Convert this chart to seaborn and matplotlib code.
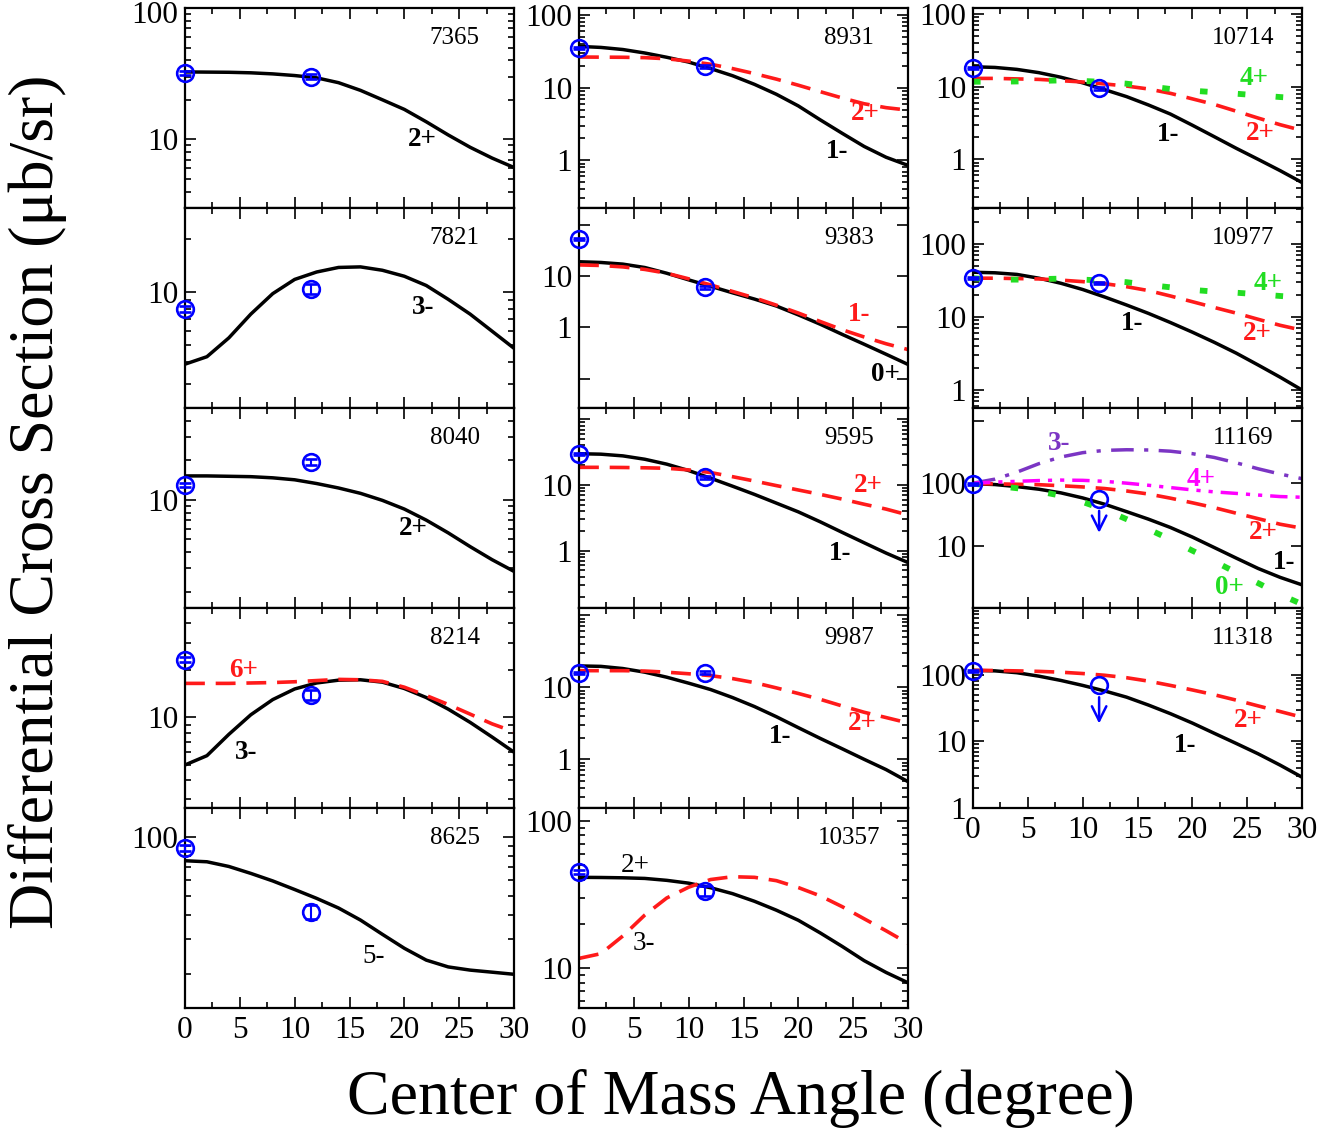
import matplotlib
matplotlib.use("Agg")
import matplotlib.pyplot as plt
import matplotlib.transforms as mtransforms
from matplotlib.ticker import MultipleLocator, LogLocator, NullFormatter
import numpy as np
import pandas as pd
import seaborn as sns

# ---------------------------------------------------------------- data
# centre-of-mass angles (deg) at which the DWBA curves are tabulated
theta = list(range(0, 31, 2))
# angles of the measured points
theta_exp = [0.0, 11.5]

# 7365 keV
cs7365_2p = [32.6, 32.5, 32.4, 32.1, 31.5, 30.6, 29.4, 27.0, 23.6, 20.0, 16.9, 13.6, 10.8, 8.7, 7.2, 6.1]
exp7365 = [32.0, 30.0]
err7365 = [1.0, 1.2]

# 7821 keV
cs7821_3m = [3.9, 4.3, 5.5, 7.5, 9.8, 11.8, 13.0, 13.8, 13.9, 13.3, 12.3, 10.9, 9.1, 7.5, 6.0, 4.8]
exp7821 = [8.0, 10.45]
err7821 = [0.3, 0.7]

# 8040 keV
cs8040_2p = [15.2, 15.2, 15.1, 15.0, 14.7, 14.2, 13.3, 12.3, 11.2, 9.9, 8.5, 7.0, 5.6, 4.4, 3.5, 2.85]
exp8040 = [13.0, 19.3]
err8040 = [0.5, 1.0]

# 8214 keV
cs8214_3m = [4.97, 5.7, 7.8, 10.4, 13.0, 15.2, 16.6, 17.3, 17.4, 16.8, 15.3, 13.4, 11.3, 9.3, 7.5, 6.0]
cs8214_6p = [16.5, 16.5, 16.5, 16.6, 16.7, 16.9, 17.2, 17.5, 17.4, 17.0, 15.6, 13.8, 12.1, 10.5, 9.1, 8.1]
exp8214 = [23.4, 14.0]
err8214 = [0.8, 1.0]

# 8625 keV
cs8625_5m = [75.4, 74.5, 70.5, 65.0, 59.5, 53.8, 48.5, 43.3, 37.6, 31.8, 27.0, 23.5, 21.7, 20.9, 20.4, 19.9]
exp8625 = [87.3, 41.4]
err8625 = [3.0, 3.5]

# 8931 keV
cs8931_1m = [37.0, 35.8, 33.5, 30.0, 26.2, 22.5, 18.3, 14.6, 11.1, 8.1, 5.6, 3.6, 2.35, 1.55, 1.1, 0.85]
cs8931_2p = [26.4, 26.3, 26.2, 25.9, 25.0, 23.2, 21.0, 18.3, 15.6, 13.1, 10.8, 8.8, 7.2, 6.0, 5.3, 4.9]
exp8931 = [35.2, 19.7]
err8931 = [1.0, 1.0]

# 9383 keV
cs9383_0p = [18.9, 18.3, 17.0, 14.6, 11.3, 8.4, 6.3, 4.7, 3.55, 2.6, 1.75, 1.15, 0.73, 0.47, 0.3, 0.19]
cs9383_1m = [16.4, 16.0, 15.0, 13.4, 11.3, 8.8, 6.7, 5.0, 3.75, 2.7, 1.9, 1.3, 0.9, 0.65, 0.48, 0.37]
exp9383 = [51.6, 6.0]
err9383 = [2.0, 0.3]

# 9595 keV
cs9595_1m = [30.0, 29.5, 27.8, 24.7, 20.8, 16.6, 12.7, 9.6, 7.2, 5.3, 3.9, 2.75, 1.9, 1.32, 0.92, 0.66]
cs9595_2p = [18.6, 18.6, 18.5, 18.3, 18.0, 17.0, 15.5, 13.4, 11.5, 9.8, 8.4, 7.2, 6.1, 5.1, 4.3, 3.5]
exp9595 = [30.0, 13.1]
err9595 = [1.0, 0.6]

# 9987 keV
cs9987_1m = [19.8, 19.5, 18.2, 16.2, 13.8, 11.4, 9.3, 7.2, 5.4, 3.9, 2.75, 1.95, 1.4, 1.0, 0.72, 0.49]
cs9987_2p = [17.0, 17.0, 17.0, 16.8, 16.2, 15.4, 14.5, 13.2, 11.6, 9.8, 8.2, 6.8, 5.5, 4.5, 3.8, 3.2]
exp9987 = [15.9, 15.9]
err9987 = [0.5, 0.7]

# 10357 keV
cs10357_2p = [41.4, 41.3, 41.1, 40.7, 39.5, 37.8, 35.2, 32.1, 28.5, 24.8, 21.2, 17.4, 14.1, 11.3, 9.4, 8.0]
cs10357_3m = [11.7, 12.6, 16.6, 23.0, 30.0, 35.5, 40.0, 41.8, 41.4, 39.3, 35.3, 31.0, 26.2, 21.7, 18.0, 14.8]
exp10357 = [45.1, 33.6]
err10357 = [1.5, 2.5]

# 10714 keV
cs10714_1m = [18.8, 18.4, 17.3, 15.6, 13.5, 11.3, 9.1, 7.3, 5.6, 4.2, 2.95, 2.05, 1.42, 1.0, 0.7, 0.48]
cs10714_2p = [13.0, 13.0, 12.8, 12.6, 12.1, 11.6, 10.9, 10.2, 9.3, 8.1, 6.8, 5.7, 4.6, 3.7, 3.0, 2.5]
cs10714_4p = [11.7, 11.7, 11.8, 12.0, 12.2, 12.0, 11.6, 11.0, 10.1, 9.3, 8.8, 8.4, 8.0, 7.6, 7.2, 6.9]
exp10714 = [18.3, 9.5]
err10714 = [0.6, 0.4]

# 10977 keV
cs10977_1m = [41.0, 40.3, 38.3, 34.0, 29.0, 23.8, 18.8, 14.6, 11.2, 8.4, 6.2, 4.5, 3.2, 2.2, 1.5, 1.0]
cs10977_2p = [34.0, 34.0, 33.6, 33.2, 32.0, 30.5, 28.6, 26.0, 23.0, 19.4, 16.2, 13.5, 11.3, 9.3, 7.7, 6.6]
cs10977_4p = [34.0, 32.5, 32.5, 33.0, 33.5, 32.5, 31.5, 30.0, 27.5, 25.5, 23.5, 22.3, 21.5, 20.5, 19.4, 18.5]
exp10977 = [34.0, 29.2]
err10977 = [1.0, 1.0]

# 11169 keV
cs11169_1m = [98.0, 95.0, 88.0, 80.0, 70.0, 58.0, 46.0, 35.0, 26.5, 19.5, 13.7, 9.3, 6.3, 4.3, 3.1, 2.35]
cs11169_2p = [98.0, 97.5, 96.0, 94.5, 91.0, 87.0, 82.0, 75.0, 67.0, 57.5, 48.5, 40.5, 33.0, 27.0, 22.0, 19.0]
cs11169_0p = [98.0, 91.0, 83.0, 74.0, 63.0, 50.0, 37.5, 26.5, 18.3, 12.5, 8.3, 5.6, 3.7, 2.5, 1.65, 1.15]
cs11169_3m = [100.0, 116.0, 150.0, 205.0, 262.0, 308.0, 335.0, 343.0, 340.0, 325.0, 297.0, 258.0, 212.0, 170.0, 140.0, 118.0]
cs11169_4p = [100.0, 104.0, 107.0, 110.0, 112.0, 111.0, 107.0, 100.0, 92.5, 85.0, 78.0, 72.5, 68.5, 64.5, 61.0, 59.5]
exp11169 = [98.0]
err11169 = [3.0]
ulim11169 = (55.6, 16.0)   # upper limit at 11.5 deg and arrow tip

# 11318 keV
cs11318_1m = [116.0, 114.0, 107.0, 95.0, 82.0, 69.0, 57.0, 46.0, 35.0, 26.0, 18.8, 13.2, 9.3, 6.5, 4.4, 2.9]
cs11318_2p = [116.0, 115.5, 114.0, 112.0, 109.0, 104.0, 98.0, 90.0, 80.0, 69.0, 59.0, 50.0, 41.5, 34.0, 28.0, 23.0]
exp11318 = [115.0]
err11318 = [4.0]
ulim11318 = (69.0, 18.5)

# ---------------------------------------------------------------- styles
STYLES = {
    "solid": dict(color="black", linestyle="-", linewidth=2.5),
    "dash": dict(color="#ff1a1a", linestyle=(0, (5.5, 3.0)), linewidth=2.6),
    "dot": dict(color="#22dd22", linestyle=(0, (1.3, 5.2)), linewidth=4.2),
    "dashdot": dict(color="#7b35c4", linestyle=(0, (6.5, 3.0, 1.2, 3.0)), linewidth=2.5),
    "dashdotdot": dict(color="#ff00ff", linestyle=(0, (5.0, 2.3, 1.2, 2.3, 1.2, 2.3)), linewidth=2.5),
}

# curve entry: (values, spin label, style, label position, weight, label colour or None)
PANELS = [
    dict(energy="7365", cell=(0, 0), ylim=(3, 100), ylabels=[10, 100],
         curves=[(cs7365_2p, "2+", "solid", (21.6, 10.0), "bold", None)],
         exp=(exp7365, err7365)),
    dict(energy="7821", cell=(1, 0), ylim=(2.2, 30), ylabels=[10],
         curves=[(cs7821_3m, "3-", "solid", (21.7, 8.2), "bold", None)],
         exp=(exp7821, err7821)),
    dict(energy="8040", cell=(2, 0), ylim=(1.5, 50), ylabels=[10],
         curves=[(cs8040_2p, "2+", "solid", (20.8, 6.0), "bold", None)],
         exp=(exp8040, err8040)),
    dict(energy="8214", cell=(3, 0), ylim=(2.64, 50), ylabels=[10],
         curves=[(cs8214_3m, "3-", "solid", (5.6, 6.0), "bold", None),
                 (cs8214_6p, "6+", "dash", (5.3, 20.0), "bold", None)],
         exp=(exp8214, err8214)),
    dict(energy="8625", cell=(4, 0), ylim=(13.4, 140), ylabels=[100],
         curves=[(cs8625_5m, "5-", "solid", (17.2, 24.5), "normal", None)],
         exp=(exp8625, err8625)),
    dict(energy="8931", cell=(0, 1), ylim=(0.22, 125), ylabels=[1, 10, 100],
         curves=[(cs8931_1m, "1-", "solid", (23.5, 1.3), "bold", None),
                 (cs8931_2p, "2+", "dash", (26.1, 4.4), "bold", None)],
         exp=(exp8931, err8931)),
    dict(energy="9383", cell=(1, 1), ylim=(0.027, 210), ylabels=[1, 10],
         curves=[(cs9383_0p, "0+", "solid", (27.9, 0.12), "bold", None),
                 (cs9383_1m, "1-", "dash", (25.5, 1.75), "bold", None)],
         exp=(exp9383, err9383)),
    dict(energy="9595", cell=(2, 1), ylim=(0.134, 149), ylabels=[1, 10],
         curves=[(cs9595_1m, "1-", "solid", (23.8, 0.91), "bold", None),
                 (cs9595_2p, "2+", "dash", (26.4, 10.0), "bold", None)],
         exp=(exp9595, err9595)),
    dict(energy="9987", cell=(3, 1), ylim=(0.211, 126), ylabels=[1, 10],
         curves=[(cs9987_1m, "1-", "solid", (18.3, 2.06), "bold", None),
                 (cs9987_2p, "2+", "dash", (25.8, 3.1), "bold", None)],
         exp=(exp9987, err9987)),
    dict(energy="10357", cell=(4, 1), ylim=(5.4, 122), ylabels=[10, 100],
         curves=[(cs10357_2p, "2+", "solid", (5.1, 50.0), "normal", None),
                 (cs10357_3m, "3-", "dash", (5.9, 14.8), "normal", "black")],
         exp=(exp10357, err10357)),
    dict(energy="10714", cell=(0, 2), ylim=(0.214, 121), ylabels=[1, 10, 100],
         curves=[(cs10714_1m, "1-", "solid", (17.8, 2.2), "bold", None),
                 (cs10714_2p, "2+", "dash", (26.2, 2.3), "bold", None),
                 (cs10714_4p, "4+", "dot", (25.6, 13.0), "bold", None)],
         exp=(exp10714, err10714)),
    dict(energy="10977", cell=(1, 2), ylim=(0.567, 311), ylabels=[1, 10, 100],
         curves=[(cs10977_1m, "1-", "solid", (14.5, 8.1), "bold", None),
                 (cs10977_2p, "2+", "dash", (25.9, 6.0), "bold", None),
                 (cs10977_4p, "4+", "dot", (26.9, 29.0), "bold", None)],
         exp=(exp10977, err10977)),
    dict(energy="11169", cell=(2, 2), ylim=(1.0, 1600), ylabels=[10, 100],
         curves=[(cs11169_1m, "1-", "solid", (28.4, 5.3), "bold", None),
                 (cs11169_2p, "2+", "dash", (26.5, 16.0), "bold", None),
                 (cs11169_0p, "0+", "dot", (23.4, 2.1), "bold", None),
                 (cs11169_3m, "3-", "dashdot", (7.9, 434.0), "bold", None),
                 (cs11169_4p, "4+", "dashdotdot", (20.8, 113.0), "bold", None)],
         exp=(exp11169, err11169), ulim=ulim11169),
    dict(energy="11318", cell=(3, 2), ylim=(1.0, 1000), ylabels=[1, 10, 100],
         curves=[(cs11318_1m, "1-", "solid", (19.3, 8.7), "bold", None),
                 (cs11318_2p, "2+", "dash", (25.1, 20.6), "bold", None)],
         exp=(exp11318, err11318), ulim=ulim11318),
]

BOTTOM_CELLS = {(4, 0), (4, 1), (3, 2)}

# ---------------------------------------------------------------- figure
sns.set_theme(style="ticks")
plt.rcParams["font.family"] = ["Liberation Serif", "DejaVu Serif"]
plt.rcParams.update({"text.color": "black", "axes.labelcolor": "black",
                     "xtick.color": "black", "ytick.color": "black"})

W, H = 1340, 1135
fig = plt.figure(figsize=(W / 100, H / 100), dpi=100)
fig.patch.set_facecolor("white")

COL_LEFT = [185, 579, 973]
PANEL_W, PANEL_H, TOP0 = 329, 200, 8
BLUE = "#0000ff"


def fmt_decade(v):
    return f"{v:g}"


for p in PANELS:
    r, c = p["cell"]
    left = COL_LEFT[c] / W
    bottom = 1 - (TOP0 + PANEL_H * (r + 1)) / H
    ax = fig.add_axes([left, bottom, PANEL_W / W, PANEL_H / H])
    ax.set_facecolor("white")
    ax.set_yscale("log")
    ax.set_xlim(0, 30)
    ax.set_ylim(*p["ylim"])

    for vals, lab, sty, pos, weight, lcol in p["curves"]:
        st = STYLES[sty]
        df = pd.DataFrame({"theta": theta, "xs": vals})
        sns.lineplot(data=df, x="theta", y="xs", ax=ax, color=st["color"],
                     linestyle=st["linestyle"], linewidth=st["linewidth"],
                     legend=False, sort=True)
        ax.text(pos[0], pos[1], lab, ha="center", va="center", fontsize=19.5,
                fontweight=weight, color=lcol or st["color"])

    yv, ye = p["exp"]
    xs = theta_exp[:len(yv)]
    eb = ax.errorbar(xs, yv, yerr=ye, fmt="o", ms=12, mfc="none", mec=BLUE,
                     mew=1.9, ecolor=BLUE, elinewidth=1.5, capsize=4,
                     capthick=1.5, zorder=5)
    for art in [eb[0], *eb[1], *eb[2]]:
        art.set_clip_on(False)

    if "ulim" in p:
        val, tip = p["ulim"]
        ax.plot([theta_exp[1]], [val], "o", ms=12, mfc="none", mec=BLUE,
                mew=1.9, zorder=5)
        ax.annotate("", xy=(theta_exp[1], tip), xytext=(theta_exp[1], val),
                    arrowprops=dict(arrowstyle="->", color=BLUE, lw=1.8,
                                    shrinkA=8.5, shrinkB=0, mutation_scale=26))

    ax.text(0.82, 0.85, p["energy"], transform=ax.transAxes, ha="center",
            va="center", fontsize=18)

    # axes, ticks
    lo, hi = p["ylim"]
    decades = [10.0 ** k for k in range(-3, 5) if lo <= 10.0 ** k <= hi * 1.001]
    ax.set_yticks(decades)
    ax.set_yticklabels([fmt_decade(d) if d in p["ylabels"] else "" for d in decades])
    ax.yaxis.set_minor_locator(LogLocator(base=10, subs=np.arange(2, 10)))
    ax.yaxis.set_minor_formatter(NullFormatter())
    ax.set_ylim(*p["ylim"])
    ax.xaxis.set_major_locator(MultipleLocator(5))
    ax.xaxis.set_minor_locator(MultipleLocator(2.5))
    ax.tick_params(which="both", direction="in", top=True, right=True,
                   width=1.2, color="black", labelsize=22.5, labelcolor="black")
    ax.tick_params(axis="x", which="major", pad=6)
    ax.tick_params(axis="y", which="major", pad=5)
    ax.tick_params(which="major", length=8)
    ax.tick_params(which="minor", length=4.5)
    if p["cell"] not in BOTTOM_CELLS:
        ax.tick_params(labelbottom=False)
    # a label sitting on the very top edge of the figure is nudged down a little
    if r == 0:
        shift = mtransforms.ScaledTranslation(0, -4 / 100, fig.dpi_scale_trans)
        for d, lbl in zip(decades, ax.get_yticklabels()):
            if d >= hi * 0.97:
                lbl.set_transform(lbl.get_transform() + shift)
    for s in ax.spines.values():
        s.set_linewidth(1.6)
        s.set_color("black")
        s.set_visible(True)
    ax.set_xlabel("")
    ax.set_ylabel("")

fig.text(38 / W, 1 - 502 / H, "Differential Cross Section (μb/sr)", rotation=90,
         ha="center", va="center", fontsize=46)
fig.text(741 / W, 1 - 1098 / H, "Center of Mass Angle (degree)", ha="center",
         va="center", fontsize=46)

fig.savefig("out.png", dpi=100, facecolor="white")
